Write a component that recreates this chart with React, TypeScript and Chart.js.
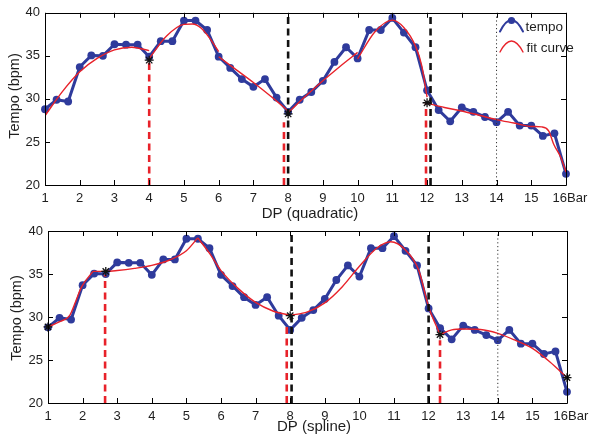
import React, { useEffect, useRef } from 'react';
import { Chart, registerables } from 'chart.js';

Chart.register(...registerables);

// ---------------- data ----------------
const BEAT_X = [
  1, 1.333, 1.667, 2, 2.333, 2.667, 3, 3.333, 3.667, 4,
  4.333, 4.667, 5, 5.333, 5.667, 6,
  6.333, 6.667, 7, 7.333, 7.667, 8,
  8.333, 8.667, 9, 9.333, 9.667, 10,
  10.333, 10.667, 11, 11.333, 11.667, 12,
  12.333, 12.667, 13, 13.333, 13.667, 14,
  14.333, 14.667, 15, 15.333, 15.667, 16,
];
const TEMPO = [
  28.8, 29.9, 29.7, 33.7, 35.05, 35.0, 36.35, 36.3, 36.3, 34.9,
  36.7, 36.7, 39.1, 39.1, 38.0, 34.9,
  33.6, 32.3, 31.4, 32.3, 30.15, 28.5,
  29.9, 30.8, 32.1, 34.3, 36.0, 34.7,
  38.0, 38.0, 39.4, 37.7, 36.0, 31.0,
  28.7, 27.4, 29.0, 28.5, 27.9, 27.3,
  28.5, 26.9, 26.9, 25.7, 26.0, 21.3,
];

const X_TICKS = [1, 2, 3, 4, 5, 6, 7, 8, 9, 10, 11, 12, 13, 14, 15, 16];
const Y_TICKS = [20, 25, 30, 35, 40];

// quadratic fit segments (top)
const QA_X = [1, 1.5, 2, 2.5, 3, 3.5, 4];
const QA_Y = [28.05, 30.85, 33.15, 34.7, 35.7, 36.0, 35.6];
const QB_X = [4, 4.5, 5, 5.25, 5.5, 5.75, 6];
const QB_Y = [34.7, 37.3, 38.65, 38.7, 38.2, 37.0, 35.5];
const QC_X = [6, 6.5, 7, 7.5, 8];
const QC_Y = [34.9, 33.4, 31.9, 30.3, 28.6];
const QD_X = [8, 8.5, 9, 9.5, 10];
const QD_Y = [28.4, 30.3, 32.1, 33.8, 35.4];
const QE_X = [10, 10.5, 11, 11.33, 11.67, 11.85, 12];
const QE_Y = [34.65, 37.8, 39.15, 38.3, 36.1, 33.8, 30.2];
const QF_X = [12, 12.5, 13, 13.5, 14, 14.5, 15, 15.3, 15.5, 15.65, 15.85, 16];
const QF_Y = [29.5, 29.0, 28.6, 28.1, 27.6, 27.2, 26.8, 26.75, 26.3, 24.7, 23.2, 21.5];

// spline fit segments (bottom)
const SA_X = [1, 1.34, 1.63, 1.8, 1.97, 2.3];
const SA_Y = [28.85, 29.45, 30.2, 31.8, 33.5, 35.3];
const SB_X = [2.3, 2.67, 3, 3.5, 4, 4.5, 5, 5.33];
const SB_Y = [35.3, 35.3, 35.4, 35.65, 36.0, 36.6, 37.7, 39.2];
const SC_X = [5.33, 5.67, 6, 6.5, 7, 7.5, 8];
const SC_Y = [39.2, 37.4, 35.4, 33.3, 31.7, 30.7, 30.2];
const SD_X = [8, 8.5, 9, 9.5, 10, 10.5, 10.9, 11.33, 11.71, 12, 12.33];
const SD_Y = [30.2, 30.6, 31.65, 33.5, 35.9, 38.0, 38.75, 37.8, 35.5, 31.2, 27.95];
const SE_X = [12.33, 12.67, 13, 13.5, 14, 14.5, 15, 15.5, 16];
const SE_Y = [27.95, 28.5, 28.6, 28.55, 28.1, 27.3, 26.35, 24.8, 22.95];

// markers / boundaries
const TOP_BLACK_X = [8.0, 12.1];
const TOP_RED_X = [4, 7.88, 11.97];
const TOP_RED_TOP = [34.3, 27.3, 29.6];
const TOP_STAR_X = [4, 8, 12];
const TOP_STAR_Y = [34.5, 28.25, 29.55];

const BOT_BLACK_X = [8.04, 12.0];
const BOT_RED_X = [2.65, 7.9, 12.33];
const BOT_RED_TOP = [34.9, 29.0, 27.3];
const BOT_STAR_X = [1, 2.67, 8, 12.33, 16];
const BOT_STAR_Y = [28.85, 35.3, 30.15, 27.95, 22.95];

const DOTTED_X = [14];
const Y_MIN = 20;
const Y_MAX = 40;

// ---------------- styling ----------------
const W = 593;
const FONT = '"Liberation Sans", Arial, sans-serif';
const BLUE = '#2f3b9c';
const RED = '#e8222a';
const BLACK = '#111111';
const TEXT = '#1e1e1e';

const pts = (xs: number[], ys: number[]) => xs.map((x, i) => ({ x, y: ys[i] }));

function fitDs(xs: number[], ys: number[]) {
  return {
    data: pts(xs, ys),
    borderColor: RED,
    borderWidth: 1.4,
    pointRadius: 0,
    cubicInterpolationMode: 'monotone',
    fill: false,
  };
}

function vline(x: number, y0: number, y1: number, color: string, dash: number[], width: number) {
  return {
    data: [{ x, y: y0 }, { x, y: y1 }],
    borderColor: color,
    borderWidth: width,
    borderDash: dash,
    pointRadius: 0,
    fill: false,
    tension: 0,
  };
}

type Spec = {
  canvasTop: number;
  canvasH: number;
  left: number;
  right: number;
  top: number;
  bottom: number;
  xTitle: string;
  xTitleX: number;
  xTitleY: number;
  yTitleX: number;
  yTitleY: number;
  legend: boolean;
  fits: { x: number[]; y: number[] }[];
  blackX: number[];
  redX: number[];
  redTop: number[];
  starX: number[];
  starY: number[];
};

function makeDecor(spec: Spec) {
  return {
    id: 'decor',
    afterDraw(chart: any) {
      const { ctx, chartArea: a, scales } = chart;
      const xs = scales.x;
      const ys = scales.y;
      ctx.save();
      ctx.strokeStyle = '#000';
      ctx.lineWidth = 1;
      // frame
      ctx.beginPath();
      ctx.rect(Math.round(a.left) + 0.5, Math.round(a.top) + 0.5, Math.round(a.right - a.left), Math.round(a.bottom - a.top));
      ctx.stroke();
      // inward ticks
      ctx.beginPath();
      for (const v of X_TICKS) {
        const px = Math.round(xs.getPixelForValue(v)) + 0.5;
        ctx.moveTo(px, a.bottom);
        ctx.lineTo(px, a.bottom - 5);
        ctx.moveTo(px, a.top);
        ctx.lineTo(px, a.top + 5);
      }
      for (const v of Y_TICKS) {
        const py = Math.round(ys.getPixelForValue(v)) + 0.5;
        ctx.moveTo(a.left, py);
        ctx.lineTo(a.left + 5, py);
        ctx.moveTo(a.right, py);
        ctx.lineTo(a.right - 5, py);
      }
      ctx.stroke();
      // "16Bar"
      ctx.fillStyle = TEXT;
      ctx.font = `13px ${FONT}`;
      ctx.textBaseline = 'middle';
      const p16 = xs.getPixelForValue(16);
      ctx.textAlign = 'right';
      ctx.fillText('16', p16 + 1, a.bottom + 13);
      ctx.textAlign = 'left';
      ctx.fillText('Bar', p16 + 1, a.bottom + 13);
      // x title
      ctx.font = `15px ${FONT}`;
      ctx.textAlign = 'center';
      ctx.fillText(spec.xTitle, spec.xTitleX, spec.xTitleY);
      // y title
      ctx.save();
      ctx.translate(spec.yTitleX, spec.yTitleY);
      ctx.rotate(-Math.PI / 2);
      ctx.font = `14.5px ${FONT}`;
      ctx.fillText('Tempo (bpm)', 0, 0);
      ctx.restore();
      // legend
      if (spec.legend) {
        ctx.lineCap = 'round';
        ctx.strokeStyle = BLUE;
        ctx.lineWidth = 2;
        ctx.beginPath();
        ctx.moveTo(500, 31.5);
        ctx.quadraticCurveTo(511.5, 8.5, 523, 31.5);
        ctx.stroke();
        ctx.fillStyle = BLUE;
        ctx.beginPath();
        ctx.arc(511.5, 20.5, 3.6, 0, Math.PI * 2);
        ctx.fill();
        ctx.strokeStyle = RED;
        ctx.lineWidth = 1.4;
        ctx.beginPath();
        ctx.moveTo(500, 52);
        ctx.quadraticCurveTo(511.5, 30, 523, 52);
        ctx.stroke();
        ctx.fillStyle = TEXT;
        ctx.font = `13.5px ${FONT}`;
        ctx.textAlign = 'left';
        ctx.textBaseline = 'middle';
        ctx.fillText('tempo', 525.5, 27);
        ctx.fillText('fit curve', 526.5, 48);
      }
      ctx.restore();
    },
  };
}

function makeConfig(spec: Spec): any {
  const datasets: any[] = [];
  // stars (top-most)
  datasets.push({
    data: pts(spec.starX, spec.starY),
    showLine: false,
    pointStyle: 'star',
    pointRadius: 4.5,
    pointBorderColor: BLACK,
    pointBorderWidth: 1.3,
    borderColor: BLACK,
    clip: false,
  });
  // black dashed boundaries
  for (const x of spec.blackX) datasets.push(vline(x, Y_MIN, Y_MAX, BLACK, [7, 4.5], 2.6));
  // red dashed boundaries
  spec.redX.forEach((x, i) => datasets.push(vline(x, Y_MIN, spec.redTop[i], RED, [7, 4.5], 2.6)));
  // dotted bar line
  for (const x of DOTTED_X) datasets.push(vline(x, Y_MIN, Y_MAX, '#333333', [1.2, 2.6], 1));
  // fit segments
  for (const f of spec.fits) datasets.push(fitDs(f.x, f.y));
  // tempo
  datasets.push({
    data: pts(BEAT_X, TEMPO),
    borderColor: BLUE,
    backgroundColor: BLUE,
    borderWidth: 3,
    pointRadius: 3.9,
    pointBackgroundColor: BLUE,
    pointBorderColor: BLUE,
    pointBorderWidth: 0,
    tension: 0,
    fill: false,
    clip: false,
  });

  return {
    type: 'line',
    data: { datasets },
    options: {
      animation: false,
      responsive: false,
      maintainAspectRatio: false,
      events: [],
      layout: { padding: { left: 0, right: W - spec.right, top: spec.top, bottom: 0 } },
      plugins: { legend: { display: false }, tooltip: { enabled: false } },
      scales: {
        x: {
          type: 'linear',
          min: 1,
          max: 16,
          grid: { display: false, drawTicks: false },
          border: { display: false },
          ticks: {
            stepSize: 1,
            autoSkip: false,
            maxRotation: 0,
            padding: 6,
            color: TEXT,
            font: { family: FONT, size: 13 },
            callback: (v: number) => (v === 16 ? '' : String(v)),
          },
          afterFit: (s: any) => {
            s.height = spec.canvasH - spec.bottom;
          },
        },
        y: {
          type: 'linear',
          min: Y_MIN,
          max: Y_MAX,
          grid: { display: false, drawTicks: false },
          border: { display: false },
          ticks: {
            stepSize: 5,
            padding: 5,
            color: TEXT,
            font: { family: FONT, size: 13 },
          },
          afterFit: (s: any) => {
            s.width = spec.left;
          },
        },
      },
    },
    plugins: [makeDecor(spec)],
  };
}

const TOP_SPEC: Spec = {
  canvasTop: 0,
  canvasH: 224,
  left: 45,
  right: 566,
  top: 11,
  bottom: 185,
  xTitle: 'DP (quadratic)',
  xTitleX: 310,
  xTitleY: 214,
  yTitleX: 15,
  yTitleY: 96,
  legend: true,
  fits: [
    { x: QA_X, y: QA_Y },
    { x: QB_X, y: QB_Y },
    { x: QC_X, y: QC_Y },
    { x: QD_X, y: QD_Y },
    { x: QE_X, y: QE_Y },
    { x: QF_X, y: QF_Y },
  ],
  blackX: TOP_BLACK_X,
  redX: TOP_RED_X,
  redTop: TOP_RED_TOP,
  starX: TOP_STAR_X,
  starY: TOP_STAR_Y,
};

const BOT_SPEC: Spec = {
  canvasTop: 218,
  canvasH: 218,
  left: 48,
  right: 567,
  top: 13,
  bottom: 185,
  xTitle: 'DP (spline)',
  xTitleX: 314,
  xTitleY: 208.5,
  yTitleX: 16.5,
  yTitleY: 100,
  legend: false,
  fits: [
    { x: SA_X, y: SA_Y },
    { x: SB_X, y: SB_Y },
    { x: SC_X, y: SC_Y },
    { x: SD_X, y: SD_Y },
    { x: SE_X, y: SE_Y },
  ],
  blackX: BOT_BLACK_X,
  redX: BOT_RED_X,
  redTop: BOT_RED_TOP,
  starX: BOT_STAR_X,
  starY: BOT_STAR_Y,
};

function Subplot({ spec }: { spec: Spec }) {
  const ref = useRef<HTMLCanvasElement>(null);
  useEffect(() => {
    const chart = new Chart(ref.current as HTMLCanvasElement, makeConfig(spec));
    return () => chart.destroy();
  }, [spec]);
  return (
    <canvas
      ref={ref}
      width={W}
      height={spec.canvasH}
      style={{ position: 'absolute', left: 0, top: spec.canvasTop, width: W, height: spec.canvasH, display: 'block' }}
    />
  );
}

export default function App() {
  return (
    <div style={{ position: 'absolute', left: 0, top: 0, width: W, height: 436, background: '#ffffff', overflow: 'hidden' }}>
      <Subplot spec={TOP_SPEC} />
      <Subplot spec={BOT_SPEC} />
    </div>
  );
}
